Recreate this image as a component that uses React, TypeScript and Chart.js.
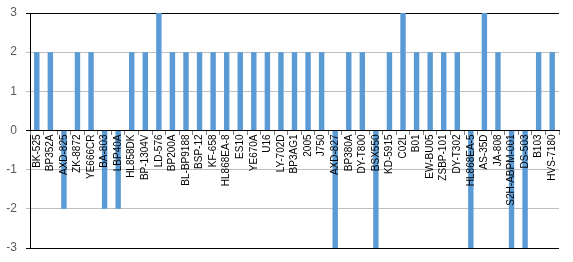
import React, { useEffect, useRef } from "react";
import { Chart, registerables } from "chart.js";

Chart.register(...registerables);

const categories: string[] = [
  "BK-525", "BP352A", "AXD-825", "ZK-8872", "YE666CR", "BA-803", "LBP40A",
  "HL858DK", "BP-1304V", "LD-576", "BP200A", "BL-BP9188", "BSP-12", "KF-658",
  "HL868EA-8", "ES10", "YE670A", "U16", "LY-702D", "BP3AG1", "2005", "J750",
  "AXD-827", "BP380A", "DY-T800", "BSX550", "KD-5915", "C02L", "B01",
  "EW-BU05", "ZSBP-101", "DY-T302", "HL868EA-5", "AS-35D", "JA-808",
  "S2H-ABPM-001", "DS-503", "B103", "HVS-7180",
];

const values: number[] = [
  2, 2, -2, 2, 2, -2, -2,
  2, 2, 3, 2, 2, 2, 2,
  2, 2, 2, 2, 2, 2, 2, 2,
  -3, 2, 2, -3, 2, 3, 2,
  2, 2, 2, -3, 3, 2,
  -3, -3, 2, 2,
];

const yMin = -3;
const yMax = 3;
const yStep = 1;

export default function App() {
  const ref = useRef<HTMLCanvasElement>(null);

  useEffect(() => {
    document.body.style.margin = "0";
    const canvas = ref.current;
    if (!canvas) return;
    const chart = new Chart(canvas, {
      type: "bar",
      data: {
        labels: categories,
        datasets: [
          {
            data: values,
            backgroundColor: "#5B9BD5",
            borderWidth: 0,
            barPercentage: 0.4,
            categoryPercentage: 1,
          },
        ],
      },
      options: {
        responsive: false,
        animation: false,
        layout: { padding: { top: 13, right: 14, bottom: 14, left: 0 } },
        plugins: {
          legend: { display: false },
          tooltip: { enabled: false },
        },
        scales: {
          x: {
            position: { y: 0 } as any,
            afterFit: (s: any) => {
              s.paddingTop = 0;
              s.paddingBottom = 0;
              s.paddingLeft = 0;
              s.paddingRight = 0;
            },
            grid: {
              offset: true,
              drawOnChartArea: false,
              drawTicks: true,
              tickLength: 4,
              color: "#808080",
              z: 1,
            },
            border: { color: "#000000", width: 1, z: 1 },
            ticks: {
              z: 2,
              autoSkip: false,
              maxRotation: 90,
              minRotation: 90,
              padding: 0,
              color: "#000000",
              font: { family: "Liberation Sans", size: 10 },
            },
          },
          y: {
            min: yMin,
            max: yMax,
            afterFit: (s: any) => {
              s.width = 30;
              s.paddingTop = 0;
              s.paddingBottom = 0;
            },
            ticks: {
              stepSize: yStep,
              padding: 9,
              color: "#595959",
              font: { family: "Liberation Sans", size: 12 },
            },
            grid: {
              tickLength: 4,
              color: (ctx: any) => {
                const v = ctx.tick ? ctx.tick.value : 0;
                if (v === yMax || v === yMin || v === 0) return "#000000";
                return "#BFBFBF";
              },
            },
            border: { color: "#000000", width: 1 },
          },
        },
      },
    } as any);
    return () => chart.destroy();
  }, []);

  return (
    <canvas
      ref={ref}
      width={573}
      height={262}
      style={{ display: "block", width: 573, height: 262 }}
    />
  );
}
